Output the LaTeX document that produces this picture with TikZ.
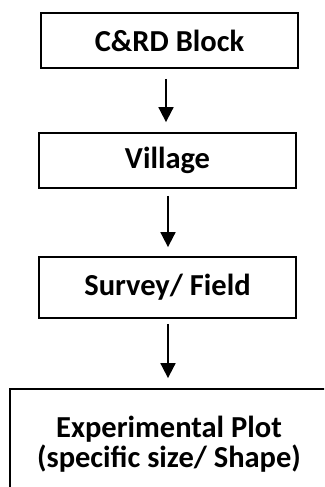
\documentclass[tikz,border=0pt]{standalone}
\usepackage{fontspec}
\setmainfont{Carlito}
\usetikzlibrary{arrows.meta}
\begin{document}
\begin{tikzpicture}[x=1pt,y=-1pt,
  box/.style={draw=black,line width=1.8pt,inner sep=0pt,align=center,
    font=\fontsize{30.5}{30}\selectfont\bfseries},
  arr/.style={line width=1.8pt,-{Triangle[width=15pt,length=15pt]}}]
\useasboundingbox (0,0) rectangle (324,487);
\clip (0,0) rectangle (324,487);
\node[box,minimum width=257pt,minimum height=55pt] (b1) at (169.5,40.5) {C\&RD Block};
\node[box,minimum width=257pt,minimum height=55pt] (b2) at (167.5,160.5) {Village};
\node[box,minimum width=257pt,minimum height=61pt] (b3) at (167.5,287.5) {Survey/ Field};
\node[box,minimum width=318pt,minimum height=110pt] (b4) at (169,444) {Experimental Plot\\(specific size/ Shape)};
\draw[arr,shorten <=10pt,shorten >=10pt] ([xshift=-3.5pt]b1.south) -- ([xshift=-1.5pt]b2.north);
\draw[arr,shorten <=7pt,shorten >=9pt] ([xshift=0.5pt]b2.south) -- ([xshift=0.5pt]b3.north);
\draw[arr,shorten <=5pt,shorten >=10pt] ([xshift=0.5pt]b3.south) -- ([xshift=-1pt]b4.north);
\end{tikzpicture}
\end{document}
